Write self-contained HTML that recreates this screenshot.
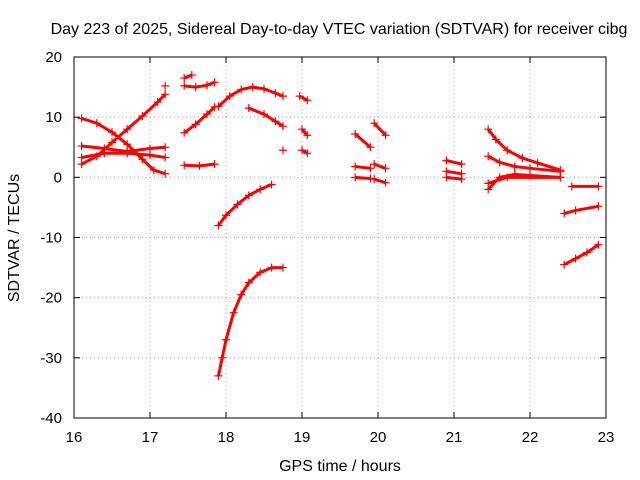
<!DOCTYPE html>
<html><head><meta charset="utf-8"><style>
body{margin:0;background:#fff}
svg{display:block;font-family:"Liberation Sans",sans-serif}
</style></head><body>
<svg id="c" width="640" height="480"></svg>
<script>
const xTicks=[16,17,18,19,20,21,22,23];
const yTicks=[20,10,0,-10,-20,-30,-40];
const tracks=[
[[16.1,9.8],[16.3,9],[16.5,7.5],[16.7,5.5],[16.9,3],[17.05,1.2],[17.2,0.6]],
[[16.1,2.2],[16.3,3.5],[16.5,5.8],[16.7,8],[16.9,10.2],[17.1,12.5],[17.2,13.8]],
[[17.2,15.2]],
[[16.1,5.2],[16.4,4.8],[16.7,4.3],[17.0,4.8],[17.2,5]],
[[16.1,3.3],[16.4,4],[16.7,4],[17.0,3.7],[17.2,3.3]],
[[17.45,16.5],[17.55,17]],
[[17.45,15.2],[17.6,15],[17.75,15.3],[17.85,15.8]],
[[17.45,7.4],[17.6,8.8],[17.75,10.5],[17.85,11.7]],
[[17.45,2],[17.65,1.9],[17.85,2.2]],
[[17.9,11.8],[18.05,13.5],[18.2,14.6],[18.35,15],[18.5,14.7],[18.65,14],[18.75,13.5]],
[[18.3,11.5],[18.5,10.5],[18.65,9.3],[18.75,8.5]],
[[18.75,4.5]],
[[17.9,-8],[18.0,-6.3],[18.15,-4.5],[18.3,-3],[18.45,-2],[18.6,-1.2]],
[[17.9,-33],[17.95,-30],[18.0,-27],[18.1,-22.5],[18.2,-19.5],[18.3,-17.5],[18.45,-15.8],[18.6,-15],[18.75,-15]],
[[18.97,13.5],[19.07,12.8]],
[[19.0,8],[19.07,7]],
[[19.0,4.5],[19.07,4]],
[[19.7,7.2],[19.9,5]],
[[19.7,1.8],[19.9,1.5]],
[[19.7,0],[19.9,-0.2]],
[[19.95,9],[20.1,7]],
[[19.95,2.2],[20.1,1.5]],
[[19.95,-0.3],[20.1,-0.9]],
[[20.9,2.8],[21.1,2.2]],
[[20.9,1],[21.1,0.6]],
[[20.9,0],[21.1,-0.3]],
[[21.45,8],[21.55,6.3],[21.7,4.5],[21.9,3.2],[22.1,2.4],[22.4,1.2]],
[[21.45,3.5],[21.6,2.5],[21.8,1.8],[22.0,1.5],[22.4,1]],
[[21.45,-2],[21.6,0],[21.8,0.5],[22.0,0.3],[22.4,0]],
[[21.45,-1],[21.7,0],[22.4,0]],
[[22.55,-1.5],[22.9,-1.5]],
[[22.45,-6],[22.6,-5.5],[22.9,-4.8]],
[[22.45,-14.5],[22.6,-13.5],[22.75,-12.5],[22.9,-11.2]]
];
const L=74,R=606,T=57,B=418;
const sx=v=>L+(v-16)/(23-16)*(R-L);
const sy=v=>T+(20-v)/60*(B-T);
const svg=document.getElementById('c');
const NS='http://www.w3.org/2000/svg';
function mk(t,a,p){const e=document.createElementNS(NS,t);for(const k in a)e.setAttribute(k,a[k]);(p||svg).appendChild(e);return e;}
function tx(s,a){const e=mk('text',a);e.textContent=s;return e;}
xTicks.forEach(v=>{const x=sx(v);
 if(v>16&&v<23){const g=mk('line',{x1:x,y1:T,x2:x,y2:B,stroke:'#a0a0a0','stroke-dasharray':'1,3'});}
 mk('line',{x1:x,y1:B,x2:x,y2:B-6,stroke:'#000'});mk('line',{x1:x,y1:T,x2:x,y2:T+6,stroke:'#000'});
 const t=tx(String(v),{x:x,y:B+24,'text-anchor':'middle','font-size':15});
 });
yTicks.forEach(v=>{const y=sy(v);
 if(v>-40&&v<20){const g=mk('line',{x1:L,y1:y,x2:R,y2:y,stroke:'#a0a0a0','stroke-dasharray':'1,3'});}
 mk('line',{x1:L,y1:y,x2:L+6,y2:y,stroke:'#000'});mk('line',{x1:R,y1:y,x2:R-6,y2:y,stroke:'#000'});
 const t=tx(String(v),{x:L-12,y:y+5,'text-anchor':'end','font-size':15});
 });
const fr=mk('rect',{x:L,y:T,width:R-L,height:B-T,fill:'none',stroke:'#000'});

const g=mk('g',{});

tracks.forEach(tr=>{
 if(tr.length>1){const p=mk('polyline',{points:tr.map(d=>sx(d[0])+','+sy(d[1])).join(' '),fill:'none',stroke:'#f00','stroke-width':3,'stroke-linejoin':'round'},g);
 }
 tr.forEach(d=>{const x=sx(d[0]),y=sy(d[1]);
  const m=mk('path',{d:`M${x-4},${y}h8M${x},${y-4}v8`,stroke:'#f00','stroke-width':1.2},g);
  });
});
const t1=tx('Day 223 of 2025, Sidereal Day-to-day VTEC variation (SDTVAR) for receiver cibg',{x:339,y:34,'text-anchor':'middle','font-size':16});

const t2=tx('GPS time / hours',{x:340,y:471,'text-anchor':'middle','font-size':16});

const t3=tx('SDTVAR / TECUs',{x:0,y:0,'text-anchor':'middle','font-size':16,transform:'translate(19,238) rotate(-90)'});

</script>
</body></html>
